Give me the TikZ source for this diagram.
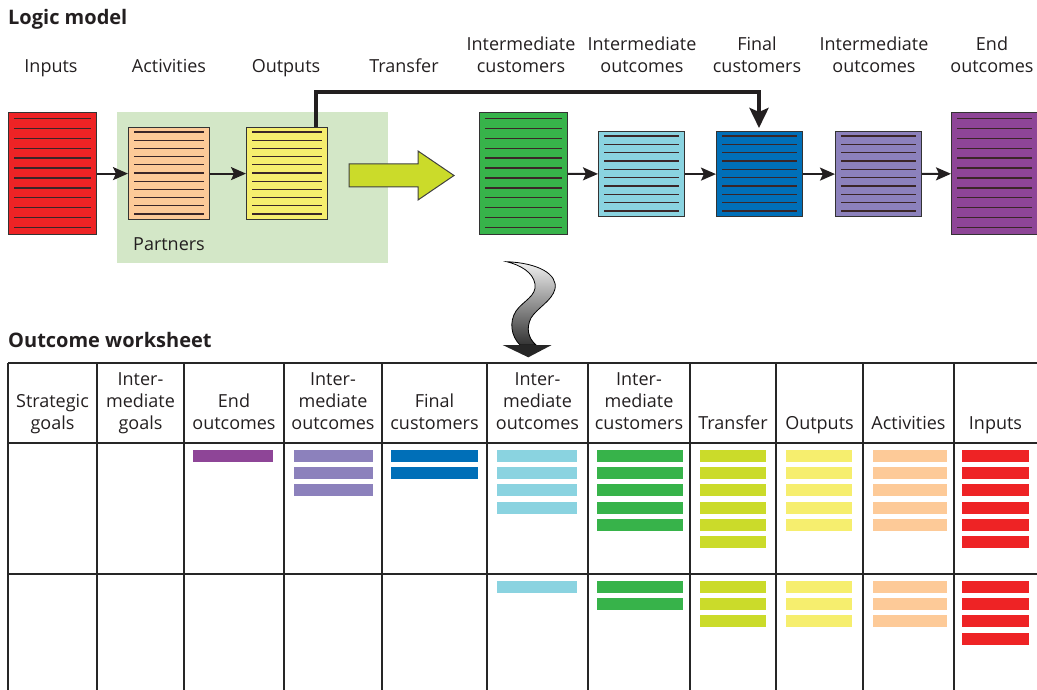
\documentclass[tikz,border=0pt]{standalone}
\usepackage{fontspec}
\setmainfont{Open Sans}
\usetikzlibrary{arrows.meta,calc}
\definecolor{cred}{HTML}{EE2325}
\definecolor{corange}{HTML}{FDCA98}
\definecolor{cyellow}{HTML}{F6EE6E}
\definecolor{clime}{HTML}{CBDB2A}
\definecolor{cgreen}{HTML}{37B34A}
\definecolor{clblue}{HTML}{8AD3E0}
\definecolor{cblue}{HTML}{006FB8}
\definecolor{clav}{HTML}{8C81BC}
\definecolor{cpurple}{HTML}{8E4597}
\definecolor{cpartner}{HTML}{D3E7C7}
\definecolor{ink}{HTML}{231F20}
\definecolor{stripeink}{HTML}{3A2628}
\newcommand\stripes[4]{\foreach \k in {1,...,#2}{\draw[stripe] ($(#1.north west)+(6,{#4+(\k-1)*(#3-2*#4)/(#2-1)})$) -- ($(#1.north east)+(-6,{#4+(\k-1)*(#3-2*#4)/(#2-1)})$);}}
\newcommand\bars[5]{\foreach \k in {1,...,#4}{\fill[#5] (#1,{#3+(\k-1)*17.2}) rectangle (#2,{#3+(\k-1)*17.2+12});}}
\begin{document}
\begin{tikzpicture}[x=1pt,y=-1pt,
  lbl/.style={font=\fontsize{18}{22}\selectfont, text=ink, inner sep=0pt, align=center, anchor=south},
  ttl/.style={font=\fontsize{20}{24}\selectfont\bfseries, text=ink, inner sep=0pt, anchor=base west},
  docbox/.style={draw=black!80, line width=1.2pt, inner sep=0pt, anchor=north west},
  stripe/.style={line width=1.3pt, draw=stripeink},
  conn/.style={line width=2pt, draw=ink, -{Stealth[length=15pt,width=13pt,inset=3pt]}},
  bigconn/.style={line width=4pt, draw=ink, line join=miter, -{Stealth[length=20pt,width=19pt,inset=4pt]}},
  grid/.style={line width=1.5pt, draw=black!85}]
\useasboundingbox (0,0) rectangle (1037,690);
% ---------- Logic model ----------
\node[ttl] (t1) at (8,25) {Logic model};
\node[lbl] (l1) at (51,79.6) {Inputs\strut};
\node[lbl] (l2) at (169,79.6) {Activities\strut};
\node[lbl] (l3) at (286,79.6) {Outputs\strut};
\node[lbl] (l4) at (404,79.6) {Transfer\strut};
\node[lbl] (l5) at (521,79.6) {Intermediate\\customers\strut};
\node[lbl] (l6) at (642,79.6) {Intermediate\\outcomes\strut};
\node[lbl] (l7) at (757,79.6) {Final\\customers\strut};
\node[lbl] (l8) at (874,79.6) {Intermediate\\outcomes\strut};
\node[lbl] (l9) at (992,79.6) {End\\outcomes\strut};
% partners area
\node[fill=cpartner, inner sep=0pt, anchor=north west, minimum width=271pt, minimum height=151pt] (part) at (117,112) {};
\node[font=\fontsize{18}{22}\selectfont, text=ink, inner sep=0pt, anchor=base west] (partlbl) at (133,251) {Partners};
% boxes
\node[docbox, fill=cred, minimum width=88pt, minimum height=122pt] (inp) at (8,112) {};
\node[docbox, fill=corange, minimum width=81pt, minimum height=92pt] (act) at (128,127) {};
\node[docbox, fill=cyellow, minimum width=81pt, minimum height=92pt] (out) at (246,127) {};
\node[docbox, fill=cgreen, minimum width=88pt, minimum height=122pt] (icus) at (479,112) {};
\node[docbox, fill=clblue, minimum width=86pt, minimum height=85pt] (iout) at (598,131) {};
\node[docbox, fill=cblue, minimum width=86pt, minimum height=85pt] (fcus) at (716,131) {};
\node[docbox, fill=clav, minimum width=86pt, minimum height=85pt] (iout2) at (835,131) {};
\node[docbox, fill=cpurple, minimum width=86pt, minimum height=122pt] (eout) at (951,112) {};
\stripes{inp}{12}{122}{6.5}
\stripes{act}{11}{92}{5}
\stripes{out}{11}{92}{5}
\stripes{icus}{12}{122}{6.5}
\stripes{iout}{10}{85}{5}
\stripes{fcus}{10}{85}{5}
\stripes{iout2}{10}{85}{5}
\stripes{eout}{12}{122}{6.5}
% connectors
\draw[conn] (inp) -- (act);
\draw[conn] (act) -- (out);
\draw[conn] (icus) -- (iout);
\draw[conn] (iout) -- (fcus);
\draw[conn] (fcus) -- (iout2);
\draw[conn] (iout2) -- (eout);
\coordinate (turn) at (759,92);
\draw[bigconn, shorten >=3pt] ([xshift=-12pt]out.north east) |- (turn) -- (turn |- fcus.north);
% transfer arrow
\draw[fill=clime, draw=black!75, line width=1pt] (349,164) -- (418,164) -- (418,151) -- (454,175.5) -- (418,200) -- (418,187) -- (349,187) -- cycle;
% wavy arrow
\draw[top color=gray!10, bottom color=black!80, draw=black, line width=0.8pt]
  (506.7,261.7) .. controls (538,263) and (558,274) .. (555,289)
  .. controls (552,301) and (537,308) .. (531,318)
  .. controls (526,328) and (528,338) .. (536,345)
  -- (520,345)
  .. controls (511,336) and (509,322) .. (516,311)
  .. controls (523,301) and (537,296) .. (535,284)
  .. controls (533,272) and (520,265) .. cycle;
\fill[black!85] (502.7,345) -- (551.7,345) -- (528.3,357.3) -- cycle;
% ---------- Outcome worksheet ----------
\node[ttl] (t2) at (8,347) {Outcome worksheet};
\draw[grid] (8,363) -- (1037,363);
\draw[grid] (8,443) -- (1037,443);
\draw[grid] (8,574) -- (1037,574);
\foreach \x in {8,97,184,284,382,487,588,690,776,863,954}{\draw[grid] (\x,363) -- (\x,690);}
\node[lbl] (h1) at (52.5,436) {Strategic\\goals\strut};
\node[lbl] (h2) at (140.5,436) {Inter-\\mediate\\goals\strut};
\node[lbl] (h3) at (234,436) {End\\outcomes\strut};
\node[lbl] (h4) at (333,436) {Inter-\\mediate\\outcomes\strut};
\node[lbl] (h5) at (434.5,436) {Final\\customers\strut};
\node[lbl] (h6) at (537.5,436) {Inter-\\mediate\\outcomes\strut};
\node[lbl] (h7) at (639,436) {Inter-\\mediate\\customers\strut};
\node[lbl] (h8) at (733,436) {Transfer\strut};
\node[lbl] (h9) at (819.5,436) {Outputs\strut};
\node[lbl] (h10) at (908.5,436) {Activities\strut};
\node[lbl] (h11) at (995.5,436) {Inputs\strut};
% row 1 bars
\bars{193}{273}{450}{1}{cpurple}
\bars{294}{373}{450}{3}{clav}
\bars{391}{478}{450}{2}{cblue}
\bars{497}{577}{450}{4}{clblue}
\bars{597}{683}{450}{5}{cgreen}
\bars{700}{766}{450}{6}{clime}
\bars{786}{852}{450}{5}{cyellow}
\bars{873}{947}{450}{5}{corange}
\bars{962}{1029}{450}{6}{cred}
% row 2 bars
\bars{497}{577}{581}{1}{clblue}
\bars{597}{683}{581}{2}{cgreen}
\bars{700}{766}{581}{3}{clime}
\bars{786}{852}{581}{3}{cyellow}
\bars{873}{947}{581}{3}{corange}
\bars{962}{1029}{581}{4}{cred}
\end{tikzpicture}
\end{document}
